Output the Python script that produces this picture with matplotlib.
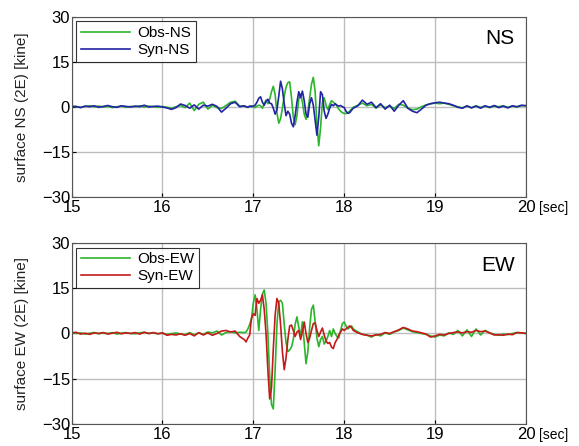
import numpy as np
import matplotlib
matplotlib.use("Agg")
import matplotlib.pyplot as plt

plt.rcParams['font.family'] = ['Liberation Sans', 'DejaVu Sans']

# sample times [sec]: quiet part, strong-motion part, quiet part
t = np.concatenate([np.linspace(15.0, 16.85, 38),
                    np.linspace(16.90, 18.08, 60),
                    np.linspace(18.10, 20.00, 39)])

# NS component [kine]
ns_obs = [0.2, 0.0, -0.2, 0.1, 0.3, 0.0, 0.2, -0.1, 0.1, -0.3,
          0.0, 0.2, -0.2, 0.1, 0.0, 0.3, -0.1, 0.2, 0.0, -0.2,
          0.1, -0.2, -0.5, 0.0, 0.4, -0.3, 1.2, -1.3, 0.8, 1.5,
          -0.8, 0.5, -0.3, -0.6, 0.4, 1.5, 1.8, 0.2,
          0.2, 0.0, -0.2, 0.1, 0.3, 0.0, -0.3, 0.2, 0.5, 0.3,
          -0.5, 1.0, 2.2, 1.0, 2.5, 5.0, 6.8, 4.0, -2.0, -5.5,
          -4.0, -0.5, 3.5, 6.5, 8.0, 8.3, 3.0, -3.5, -6.0, -3.0,
          2.5, 4.2, 1.5, -2.5, -4.2, -1.5, 3.0, 7.5, 9.8, 5.0,
          -6.0, -13.0, -7.0, 1.5, 3.0, 0.5, -1.0, 0.8, 2.0, 1.5,
          1.0, 0.2, -0.8, -1.5, -2.0, -2.2, -2.3, -2.0, -1.5, -0.8,
          -0.2, 0.5, 1.2, 0.3, 0.8, -0.5, 0.6, -0.3, 0.2, -0.6,
          0.8, 0.5, -0.5, -1.0, -0.8, 0.0, 0.6, 1.0, 1.2, 1.0,
          1.2, 0.8, 0.3, 0.0, -0.4, 0.2, -0.3, 0.3, -0.2, 0.2,
          -0.3, 0.2, 0.0, 0.3, -0.2, 0.2, -0.1, 0.3, 0.4]
ns_syn = [0.0, 0.1, -0.3, 0.2, 0.0, 0.3, -0.2, 0.1, 0.4, 0.0,
          -0.2, 0.3, 0.1, -0.1, 0.2, 0.0, 0.5, -0.1, 0.1, 0.2,
          -0.1, -0.4, -0.9, -0.3, 0.9, 0.4, -0.5, 0.6, -0.8, 0.5,
          0.2, 0.8, 0.1, -1.8, -0.5, 1.0, 1.5, 0.0,
          0.3, 0.0, -0.2, 0.2, 0.0, 0.2, 0.5, 1.5, 2.8, 3.3,
          1.5, 0.5, 1.8, 2.5, 1.2, 1.0, -0.5, -2.5, -1.0, 3.5,
          8.5, 6.0, 1.0, -3.0, -1.5, -2.5, -5.5, -6.7, -3.0, 1.5,
          5.0, 3.0, 5.2, 2.0, -2.5, -3.5, 1.0, 3.0, 0.5, -4.5,
          -9.5, -3.5, 5.0, 4.0, -1.5, -3.9, -2.5, -0.5, 0.8, 0.3,
          1.0, 0.5, 0.2, 0.4, 0.0, -0.3, -1.5, -2.2, -2.0, -1.2,
          -0.5, 0.3, 2.2, 0.8, 1.5, -0.3, 1.0, -0.8, 0.5, -1.5,
          0.5, 2.0, -0.5, -1.5, -2.0, -0.8, 0.5, 1.0, 1.3, 1.5,
          1.2, 1.0, 0.5, -0.2, -0.5, 0.3, -0.4, 0.2, -0.5, 0.3,
          -0.2, 0.4, -0.3, 0.2, -0.4, 0.3, 0.0, 0.5, 0.3]

# EW component [kine]
ew_obs = [0.3, 0.0, 0.2, -0.2, 0.1, 0.3, -0.1, 0.2, 0.0, 0.3,
          -0.2, 0.1, 0.3, 0.0, -0.1, 0.2, 0.4, 0.0, 0.2, -0.1,
          0.1, -0.3, -0.1, 0.2, -0.2, -0.4, 0.3, -0.5, 0.2, -0.3,
          0.5, 0.2, 0.8, -0.5, 0.3, 0.6, 0.2, 0.4,
          0.3, 0.5, 1.5, 3.0, 5.0, 10.0, 12.8, 8.0, 1.0, 8.0,
          13.0, 14.4, 10.0, 0.0, -14.0, -23.5, -25.0, -12.0, 3.0, 10.5,
          11.0, 10.0, 3.0, -3.0, -6.0, -5.5, -4.5, -2.0, 3.0, 5.5,
          2.0, -1.0, 3.9, -3.0, -10.0, -6.0, 2.0, 8.0, 9.4, 4.0,
          -1.5, -4.4, -2.0, -1.0, -3.5, -2.5, -1.0, 1.0, -1.0, 1.5,
          0.0, -1.0, -1.5, 1.0, 3.3, 3.8, 2.5, 1.5, 2.0, 2.5,
          1.5, 0.5, -0.3, -0.5, -1.2, -0.3, -0.8, 0.2, -0.3, 0.5,
          1.0, 1.8, 1.2, 0.6, 0.3, 0.0, -0.3, -0.8, -1.2, -0.5,
          -0.8, 0.2, -0.3, 1.0, -0.8, 1.2, -1.0, 1.5, -0.5, 1.0,
          0.2, -0.3, -0.6, -0.2, -0.4, 0.0, 0.3, 0.2, 0.0]
ew_syn = [0.2, 0.4, -0.2, 0.1, -0.3, 0.2, 0.0, 0.3, -0.2, 0.1,
          0.4, -0.1, 0.2, 0.0, 0.3, -0.2, 0.4, 0.0, 0.3, -0.1,
          0.2, -0.6, -0.3, -0.5, -0.1, -0.6, 0.0, -0.8, 0.3, -0.5,
          0.2, -0.6, 0.0, 0.8, 1.0, 0.5, 0.8, -1.0,
          -2.0, -2.8, -1.5, -0.5, 5.0, 6.5, 6.0, 11.6, 10.0, 11.0,
          12.8, 8.0, 0.0, -12.0, -21.7, -18.0, -5.0, 6.0, 11.6, 10.0,
          3.0, -6.0, -12.0, -8.0, -2.0, 2.5, 2.8, 1.0, -1.0, 0.5,
          1.0, -2.0, 0.5, 3.8, 0.0, -3.0, -1.5, 1.0, 3.3, 3.5,
          1.0, -1.0, 0.5, 1.8, -0.5, -2.5, -3.3, -3.0, -4.5, -5.0,
          -3.0, -2.0, -0.5, 0.5, 1.5, 1.0, 1.5, 2.0, 2.5, 2.0,
          1.0, 0.2, -0.3, -0.6, -0.8, -0.5, -0.3, 0.3, 0.0, 0.6,
          1.2, 2.0, 1.5, 0.8, 0.6, 0.2, -0.2, -1.2, -0.8, -0.3,
          -0.5, 0.0, 0.3, 0.5, 0.2, 0.6, 0.4, 1.0, 0.6, 0.8,
          0.2, -0.5, -0.4, -0.6, -0.2, -0.4, 0.3, 0.2, 0.0]

panels = [
    ("NS", ns_obs, ns_syn, "Obs-NS", "Syn-NS", "#2323a6"),
    ("EW", ew_obs, ew_syn, "Obs-EW", "Syn-EW", "#c41a1a"),
]
green = "#2bb52b"

fig = plt.figure(figsize=(5.79, 4.46), dpi=100)
boxes = [[0.1235, 0.559, 0.785, 0.4035], [0.1235, 0.0493, 0.785, 0.406]]

for box, (comp, obs, syn, lab_o, lab_s, col) in zip(boxes, panels):
    ax = fig.add_axes(box)
    ax.plot(t, obs, color=green, lw=1.2, label=lab_o)
    ax.plot(t, syn, color=col, lw=1.2, label=lab_s)
    ax.set_xlim(15, 20)
    ax.set_ylim(-30, 30)
    ax.set_xticks([15, 16, 17, 18, 19, 20])
    ax.set_yticks([-30, -15, 0, 15, 30])
    ax.grid(True, color="#bdbdbd", lw=1.0)
    ax.tick_params(direction="in", labelsize=12, length=3)
    ax.tick_params(axis="x", pad=2.5)
    ax.tick_params(axis="y", pad=1)
    for s in ax.spines.values():
        s.set_color("#555555")
        s.set_linewidth(0.8)
    ax.set_ylabel("surface %s (2E) [kine]" % comp, fontsize=11, color="#222222", labelpad=9)
    ax.text(0.975, 0.93, comp, transform=ax.transAxes, ha="right", va="top", fontsize=15)
    ax.annotate("[sec]", xy=(1, 0), xycoords="axes fraction", xytext=(9, -8),
                textcoords="offset points", fontsize=10, ha="left", va="center")
    leg = ax.legend(loc="upper left", fontsize=11, frameon=True, fancybox=False,
                    handlelength=3.2, borderpad=0.3, labelspacing=0.2,
                    borderaxespad=0.3, handletextpad=0.5)
    leg.get_frame().set_edgecolor("black")
    leg.get_frame().set_linewidth(0.8)

fig.savefig("out.png", dpi=100)
